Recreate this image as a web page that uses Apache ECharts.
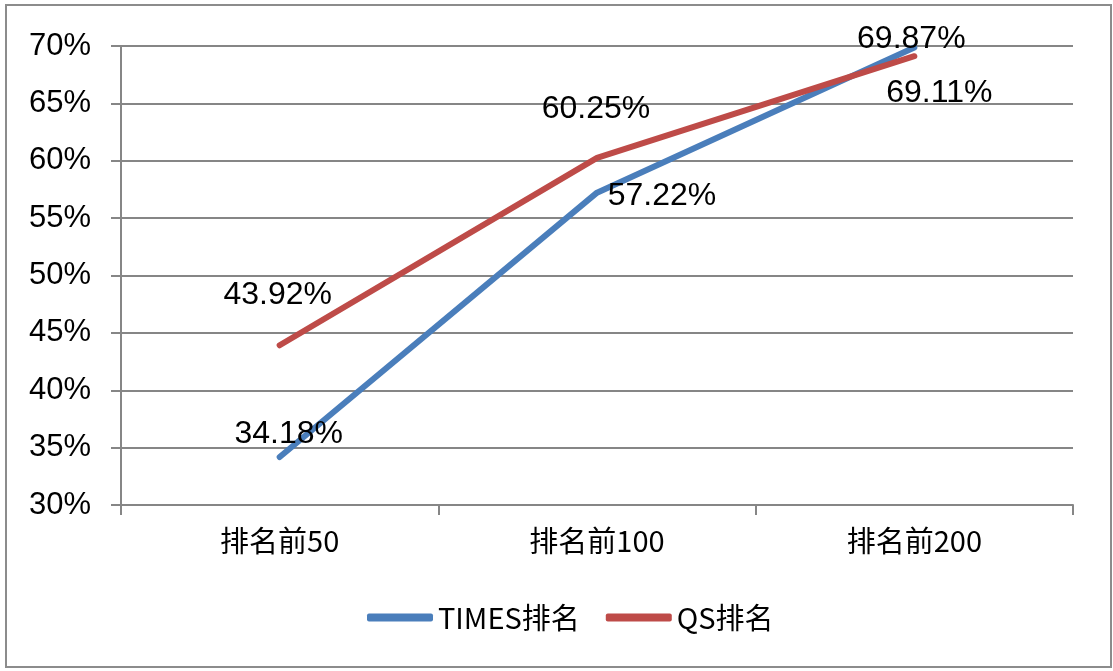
<!DOCTYPE html>
<html>
<head>
<meta charset="utf-8">
<script src="https://cdn.jsdelivr.net/npm/echarts@6/dist/echarts.min.js"></script>
<style>html,body{margin:0;padding:0;background:#fff;}#c{width:1113px;height:671px;}</style>
</head>
<body>
<div id="c"></div>
<script>
var categories = ['排名前50', '排名前100', '排名前200'];
var timesValues = [34.18, 57.22, 69.87];
var qsValues = [43.92, 60.25, 69.11];
var yTicks = { min: 30, max: 70, interval: 5 };

var timesOffsets = [[9, -23], [65, 4], [-3, -8]];
var qsOffsets = [[-2, -50], [-1, -49], [25, 37]];

function buildData(vals, offs) {
  return vals.map(function (v, i) {
    return { value: v, label: { offset: offs[i] } };
  });
}

var chart = echarts.init(document.getElementById('c'));
var labelBase = {
  show: true,
  position: 'inside',
  fontFamily: 'Liberation Sans, Arial, sans-serif',
  fontSize: 32,
  color: '#000',
  formatter: function (p) { return p.value.toFixed(2) + '%'; }
};
chart.setOption({
  animation: false,
  backgroundColor: '#fff',
  graphic: [{
    type: 'rect',
    shape: { x: 6, y: 5, width: 1105, height: 662 },
    style: { fill: 'none', stroke: '#8c8c8c', lineWidth: 2 },
    z: -1
  }],
  grid: { left: 121, right: 40, top: 46, bottom: 166 },
  legend: {
    bottom: 34,
    left: 362,
    itemWidth: 66,
    itemHeight: 8,
    itemGap: 26,
    icon: 'roundRect',
    textStyle: { fontFamily: 'Noto Sans CJK SC, sans-serif', fontSize: 29, color: '#000' },
    data: ['TIMES排名', 'QS排名']
  },
  xAxis: {
    type: 'category',
    data: categories,
    boundaryGap: true,
    axisLine: { show: true, lineStyle: { color: '#868686', width: 2 } },
    axisTick: { show: true, length: 10, inside: false, lineStyle: { color: '#868686', width: 2 } },
    axisLabel: { margin: 21, fontFamily: 'Noto Sans CJK SC, sans-serif', fontSize: 29, color: '#000' }
  },
  yAxis: {
    type: 'value',
    min: yTicks.min,
    max: yTicks.max,
    interval: yTicks.interval,
    axisLine: { show: true, lineStyle: { color: '#868686', width: 2 } },
    axisTick: { show: true, length: 10, inside: false, lineStyle: { color: '#868686', width: 2 } },
    splitLine: { show: true, lineStyle: { color: '#868686', width: 2 } },
    axisLabel: { margin: 30, formatter: '{value}%', fontFamily: 'Liberation Sans, Arial, sans-serif', fontSize: 31, color: '#000' }
  },
  series: [
    {
      name: 'TIMES排名',
      type: 'line',
      data: buildData(timesValues, timesOffsets),
      color: '#4a7ebb',
      symbol: 'circle',
      symbolSize: 1,
      lineStyle: { color: '#4a7ebb', width: 6, cap: 'round' },
      label: labelBase,
      z: 2
    },
    {
      name: 'QS排名',
      type: 'line',
      data: buildData(qsValues, qsOffsets),
      color: '#be4b48',
      symbol: 'circle',
      symbolSize: 1,
      lineStyle: { color: '#be4b48', width: 6, cap: 'round' },
      label: labelBase,
      z: 3
    }
  ]
});
</script>
</body>
</html>
